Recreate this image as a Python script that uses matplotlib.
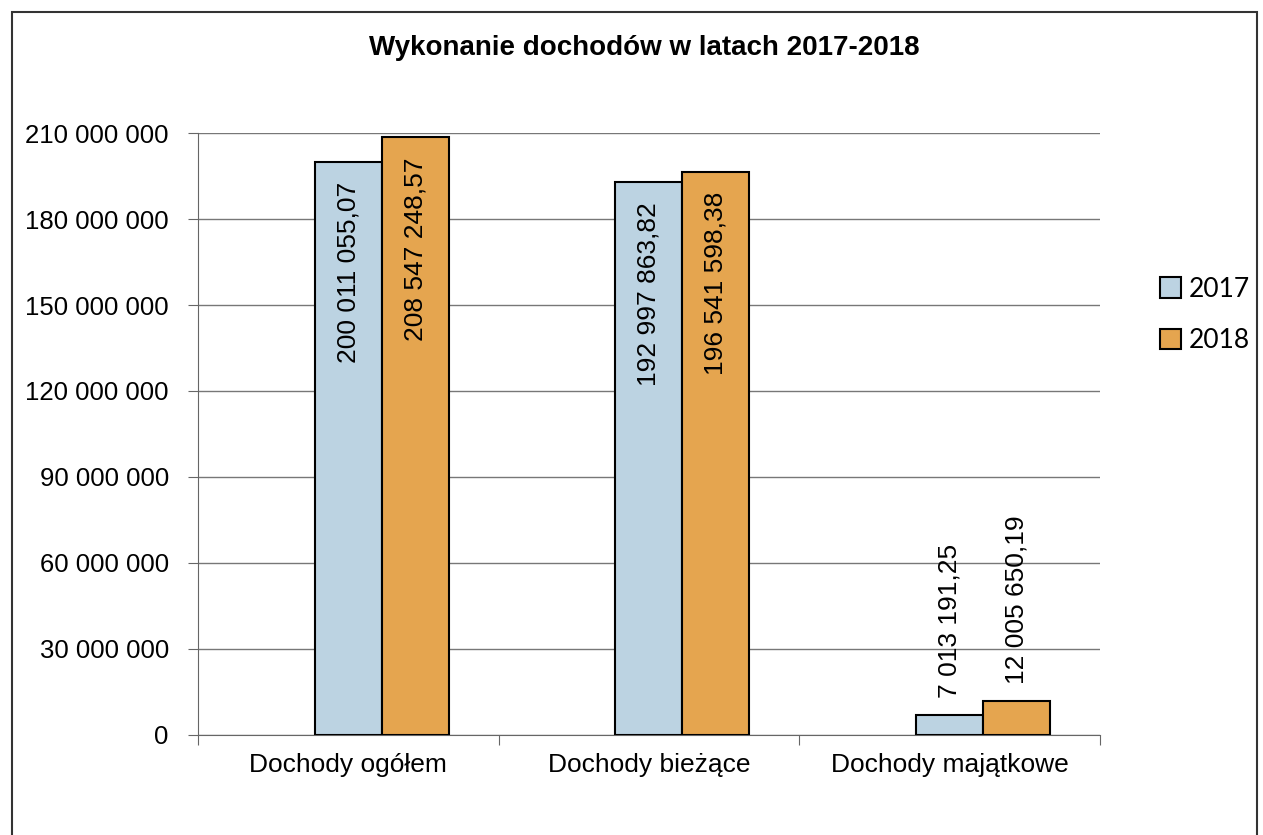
import matplotlib.pyplot as plt
from matplotlib.patches import Rectangle
from matplotlib.ticker import FuncFormatter

categories = ["Dochody ogółem", "Dochody bieżące", "Dochody majątkowe"]
years = ["2017", "2018"]
values_2017 = [200011055.07, 192997863.82, 7013191.25]
values_2018 = [208547248.57, 196541598.38, 12005650.19]
labels_2017 = ["200 011 055,07", "192 997 863,82", "7 013 191,25"]
labels_2018 = ["208 547 248,57", "196 541 598,38", "12 005 650,19"]

plt.rcParams['font.family'] = ['Liberation Sans', 'DejaVu Sans']

fig = plt.figure(figsize=(12.63, 8.35), dpi=100)
ax = fig.add_axes([0.1568, 0.1198, 0.714, 0.7209])

# outer frame of the chart area
fig.patches.append(Rectangle((12 / 1263, -0.05), 1245 / 1263, 1.05 - 12 / 835,
                             transform=fig.transFigure, fill=False,
                             edgecolor='#333333', linewidth=1.5))

w = 0.223
x = range(len(categories))
colors = ['#bcd3e2', '#e5a54f']
series = [(values_2017, labels_2017, 0.0), (values_2018, labels_2018, w)]

for i, (vals, labs, off) in enumerate(series):
    xs = [xi + off for xi in x]
    ax.bar(xs, vals, width=w, color=colors[i], edgecolor='black',
           linewidth=1.5, label=years[i], zorder=3)
    for xx, v, t in zip(xs, vals, labs):
        if v > 50e6:
            ax.annotate(t, (xx, v), xytext=(0, -20), textcoords='offset pixels',
                        rotation=90, ha='center', va='top', fontsize=19, zorder=4)
        else:
            ax.annotate(t, (xx, v), xytext=(0, 17), textcoords='offset pixels',
                        rotation=90, ha='center', va='bottom', fontsize=19, zorder=4)

ax.set_xlim(-0.5, 2.5)
ax.set_ylim(0, 210e6)
ax.set_yticks(range(0, 210000001, 30000000))
ax.yaxis.set_major_formatter(FuncFormatter(lambda v, p: f"{int(v):,}".replace(",", " ")))
ax.set_xticks([-0.5, 0.5, 1.5, 2.5])
ax.set_xticklabels([])
ax.set_xticks([0, 1, 2], minor=True)
ax.set_xticklabels(categories, minor=True, fontsize=19)
ax.tick_params(axis='x', which='minor', length=0, pad=13)
ax.tick_params(axis='x', which='major', length=7, color='#666666')
ax.tick_params(axis='y', labelsize=18.5, length=7, color='#666666', pad=14)

ax.grid(axis='y', color='#777777', linewidth=1, zorder=0)
for s in ['top', 'right']:
    ax.spines[s].set_visible(False)
ax.spines['left'].set_color('#666666')
ax.spines['bottom'].set_color('#666666')

fig.text(0.51, 0.942, "Wykonanie dochodów w latach 2017-2018", ha='center',
         va='center', fontsize=20, fontweight='bold')

leg = ax.legend(loc='center left', bbox_to_anchor=(1.04, 0.698), frameon=False,
                prop={'family': 'Lato', 'size': 19}, handlelength=0.8,
                handleheight=0.8, handletextpad=0.3, labelspacing=1.0)

fig.savefig("out.png", dpi=100)
